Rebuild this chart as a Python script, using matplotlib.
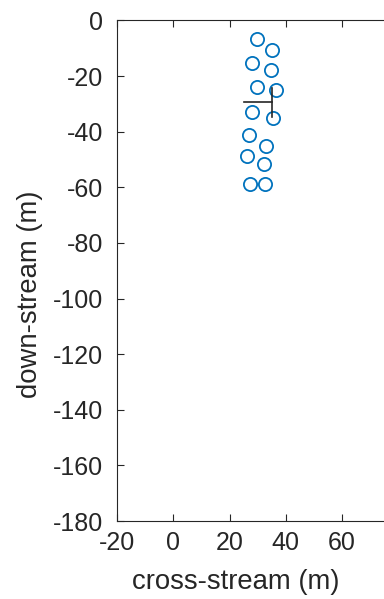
import matplotlib
matplotlib.use("Agg")
import matplotlib.pyplot as plt

# positions of the markers (m)
cross_x = [29.9, 35.3, 28.1, 34.7, 29.7, 36.6, 28.0, 35.5, 26.8, 33.0, 26.3, 32.3, 27.4, 32.8]
down_y = [-6.8, -10.6, -15.2, -18.0, -24.0, -25.2, -32.8, -35.1, -41.1, -45.1, -48.7, -51.7, -58.7, -58.7]

# cross marker segments
hline_x = [25.3, 35.2]
hline_y = [-29.5, -29.5]
vline_x = [35.2, 35.2]
vline_y = [-24.4, -34.6]

xticks = [-20, 0, 20, 40, 60]
yticks = [0, -20, -40, -60, -80, -100, -120, -140, -160, -180]

plt.rcParams["font.family"] = ["Liberation Sans", "DejaVu Sans"]
plt.rcParams["axes.unicode_minus"] = False
dark = "#262626"

fig = plt.figure(figsize=(3.84, 5.99), dpi=100)
ax = fig.add_axes([0.3055, 0.130, 0.8766, 0.836])

ax.plot(cross_x, down_y, "o", ms=9.5, mfc="none", mec="#0072BD", mew=1.3)
ax.plot(hline_x, hline_y, color=dark, lw=1.2)
ax.plot(vline_x, vline_y, color=dark, lw=1.2)

ax.set_xlim(-20, 100)
ax.set_ylim(-180, 0)
ax.set_xticks(xticks)
ax.set_yticks(yticks)
ax.tick_params(direction="in", length=5, width=0.8, colors=dark, labelsize=18,
               top=True, right=True)
ax.tick_params(axis="y", pad=10)
ax.tick_params(axis="x", pad=7)
for s in ax.spines.values():
    s.set_color(dark)
    s.set_linewidth(0.8)

ax.set_xlabel("cross-stream (m)", fontsize=19.8, color=dark, va="center")
ax.set_ylabel("down-stream (m)", fontsize=19.8, color=dark, va="center")
ax.xaxis.set_label_coords(0.3526, -0.1218)
ax.yaxis.set_label_coords(-0.2594, 0.453)

fig.savefig("out.png", dpi=100)
